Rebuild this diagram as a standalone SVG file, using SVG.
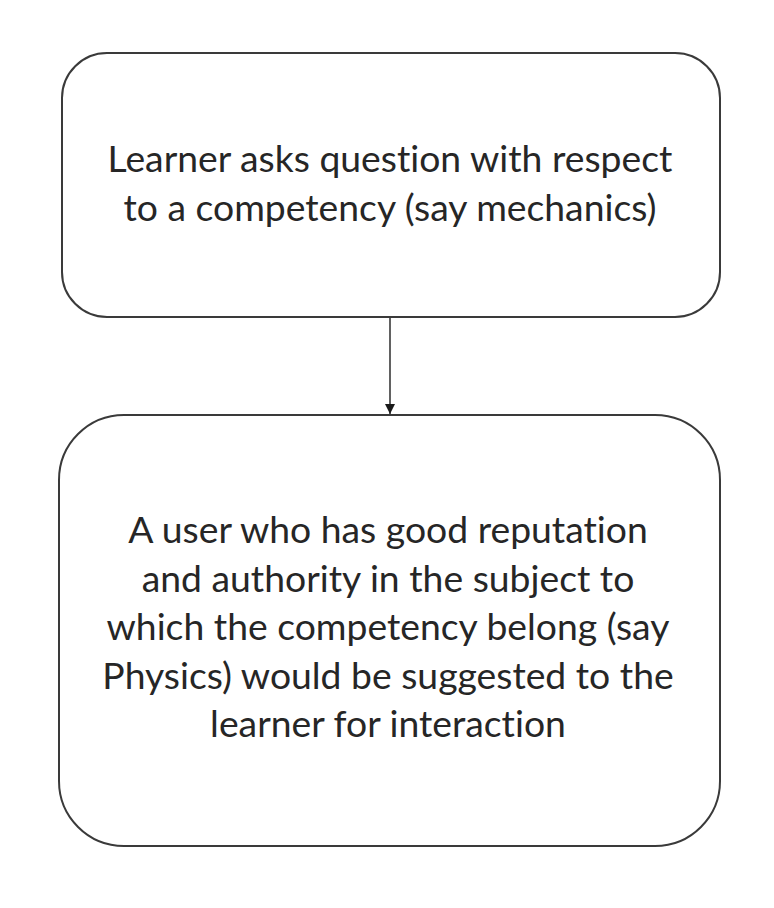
<svg xmlns="http://www.w3.org/2000/svg" width="774" height="908" viewBox="0 0 774 908">
<style>
.box{fill:#ffffff;stroke:#3a3a3a;stroke-width:2}
.lbl{font-family:Lato,"Liberation Sans",sans-serif;font-size:37.3px;fill:#262626;text-anchor:middle;font-variant-ligatures:none;font-feature-settings:"liga" 0,"clig" 0}
.conn{stroke:#3a3a3a;stroke-width:1.6;fill:none}
</style>
<defs>
<marker id="arr" viewBox="0 0 10 10" refX="10" refY="5" markerWidth="6.5" markerHeight="7" orient="auto" markerUnits="strokeWidth">
<path d="M0,0 L10,5 L0,10 Z" fill="#1a1a1a"/>
</marker>
</defs>
<rect width="774" height="908" fill="#ffffff"/>
<g id="node-ask">
<rect class="box" x="62" y="53" width="658" height="264" rx="45" ry="45"/>
<text class="lbl" x="390" y="172">Learner asks question with respect</text>
<text class="lbl" x="390" y="221">to a competency (say mechanics)</text>
</g>
<g id="node-suggest">
<rect class="box" x="59" y="415" width="661" height="431" rx="65" ry="65"/>
<text class="lbl" x="388" y="543">A user who has good reputation</text>
<text class="lbl" x="388" y="592">and authority in the subject to</text>
<text class="lbl" x="388" y="640">which the competency belong (say</text>
<text class="lbl" x="388" y="689">Physics) would be suggested to the</text>
<text class="lbl" x="388" y="737">learner for interaction</text>
</g>
<g id="connectors">
<line class="conn" x1="390" y1="318" x2="390" y2="414" marker-end="url(#arr)"/>
</g>
</svg>
